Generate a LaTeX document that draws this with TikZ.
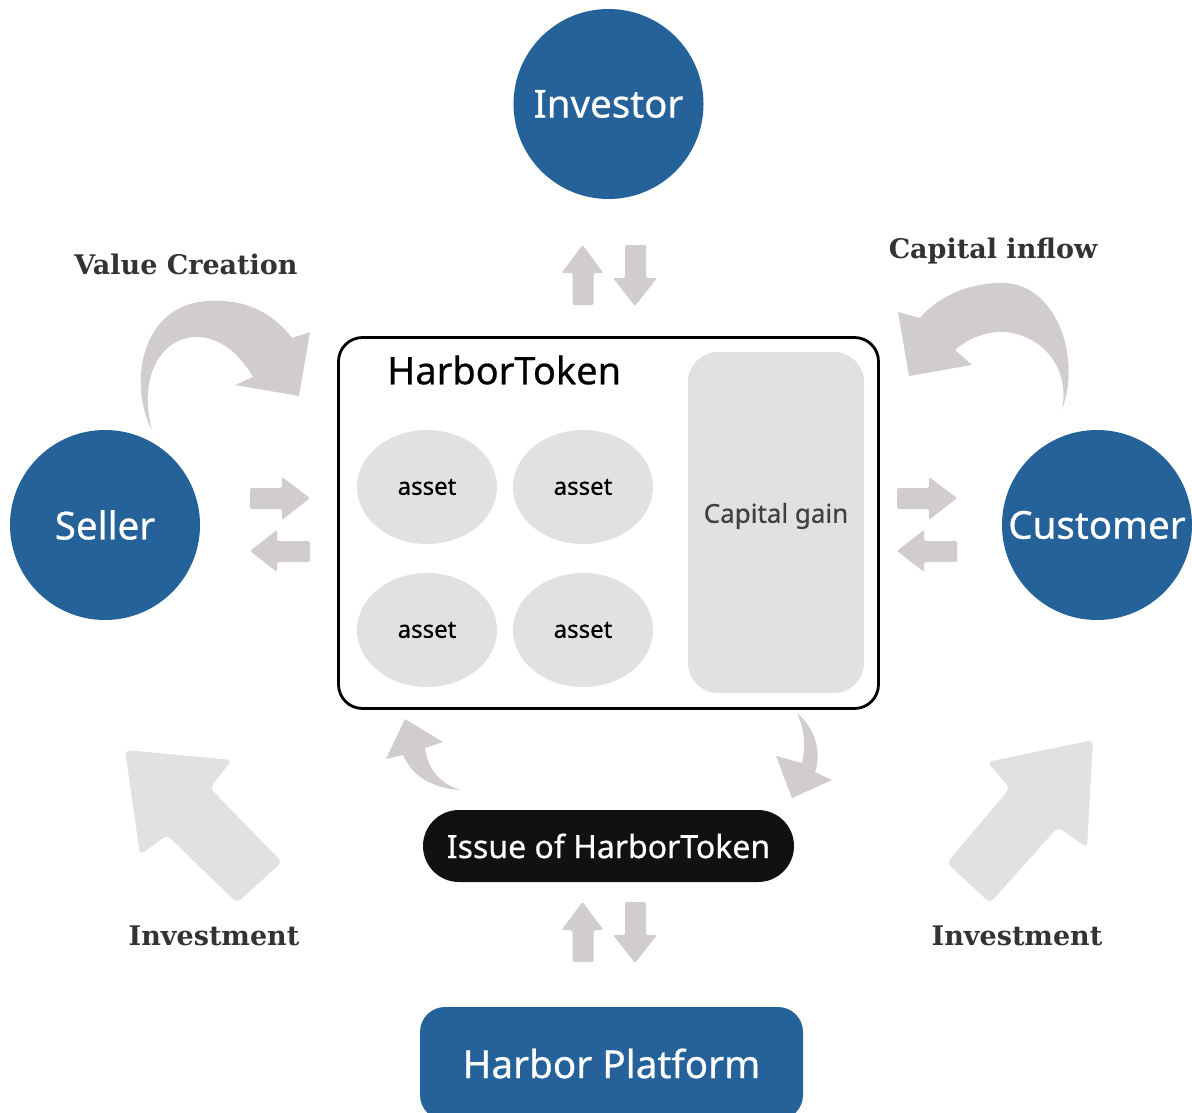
\documentclass[tikz,border=0pt]{standalone}
\usepackage{fontspec}
\setmainfont{Noto Sans}[FakeBold=0.6]
\newfontfamily\labelfont{DejaVu Serif}
\usetikzlibrary{shapes.geometric}
\definecolor{hblue}{RGB}{36,98,153}
\definecolor{arrowgray}{RGB}{209,205,206}
\definecolor{biggray}{RGB}{224,225,225}
\definecolor{softgray}{RGB}{225,225,225}
\definecolor{labelgray}{RGB}{51,51,51}
\definecolor{gaingray}{RGB}{64,64,64}
\begin{document}
\begin{tikzpicture}[x=1pt,y=-1pt,
  txt/.style={font=\bfseries},
  circ/.style={circle, fill=hblue, minimum size=190pt, inner sep=0pt, text=white, font=\bfseries\fontsize{38.5}{40}\selectfont},
  assetnode/.style={ellipse, fill=softgray, minimum width=140pt, minimum height=114pt, inner sep=0pt, font=\bfseries\fontsize{24}{26}\selectfont},
  sidelabel/.style={text=labelgray, font=\labelfont\bfseries\fontsize{27}{29}\selectfont},
  smallarrow/.style={fill=arrowgray, rounded corners=1.5pt},
  curvearrow/.style={fill=arrowgray},
  bigarrow/.style={fill=biggray, rounded corners=5pt}]
\useasboundingbox (0,0) rectangle (1192,1113);
\clip (0,0) rectangle (1192,1113);

% circles
\node[circ] (investor) at (608.5,104) {Investor};
\node[circ] (seller) at (105,525) {Seller};
\node[circ] (customer) at (1097,525) {Customer};

% main box
\node[draw=black, line width=2.8pt, rounded corners=24pt, minimum width=540pt, minimum height=371pt, inner sep=0pt] (token) at (608.5,523) {};
\node[font=\bfseries\fontsize{38}{40}\selectfont, anchor=west, inner sep=0pt] (tokentitle) at (387,370) {HarborToken};
\node[assetnode] (a1) at (427,487) {asset};
\node[assetnode] (a2) at (583,487) {asset};
\node[assetnode] (a3) at (427,630) {asset};
\node[assetnode] (a4) at (583,630) {asset};
\node[fill=softgray, rounded corners=30pt, minimum width=176pt, minimum height=341pt, inner sep=0pt] (gain) at (776,522.5) {};
\node[text=gaingray, font=\bfseries\fontsize{26}{28}\selectfont, inner sep=0pt] (gaintext) at (776,516) {Capital gain};

% issue and platform
\node[fill={rgb,255:red,17;green,17;blue,17}, rounded corners=36pt, minimum width=371pt, minimum height=72pt, inner sep=0pt, text=white, font=\bfseries\fontsize{32}{34}\selectfont] (issue) at (608.5,846) {Issue of HarborToken};
\node[fill=hblue, rounded corners=25pt, minimum width=383pt, minimum height=113pt, inner sep=0pt, text=white, font=\bfseries\fontsize{38.7}{40}\selectfont] (platform) at (611.5,1063.5) {Harbor Platform};

% labels
\node[sidelabel] (lvc) at (186,264) {Value Creation};
\node[sidelabel] (lci) at (993,251) {Capital inflow};
\node[sidelabel] (li1) at (214,936) {Investment};
\node[sidelabel] (li2) at (1017,936) {Investment};

% small vertical arrows (top and bottom)
\foreach \dy in {0,657}{
  \begin{scope}[shift={(0,\dy)}]
    \fill[smallarrow] (582.5,245) -- (603.5,273) -- (593.5,273) -- (593.5,305) -- (572.5,305) -- (572.5,273) -- (561.5,273) -- cycle;
    \fill[smallarrow] (635,306) -- (657,278) -- (646,278) -- (646,245) -- (625,245) -- (625,278) -- (613,278) -- cycle;
  \end{scope}
}
% small horizontal arrows (left and right)
\foreach \dx in {0,647}{
  \begin{scope}[shift={(\dx,0)}]
    \fill[smallarrow] (310,498) -- (282,477) -- (282,488) -- (250,488) -- (250,509) -- (282,509) -- (282,520) -- cycle;
    \fill[smallarrow] (250,551) -- (277,530) -- (277,541) -- (310,541) -- (310,562) -- (277,562) -- (277,572) -- cycle;
  \end{scope}
}

% curved arrow: value creation
\fill[curvearrow] (152,430) .. controls (128,385) and (140,303) .. (210,301)
  .. controls (250,299) and (275,316) .. (292,338) -- (310,332) -- (299,396) -- (235,385) -- (253,377)
  .. controls (236,348) and (215,336) .. (193,337)
  .. controls (160,340) and (138,378) .. (152,430) -- cycle;

% curved arrow: capital inflow
\fill[curvearrow] (1062,410) .. controls (1082,355) and (1055,285) .. (1005,283)
  .. controls (965,282) and (935,300) .. (920,318) -- (898,312) -- (909,376) -- (972,365) -- (955,350)
  .. controls (970,337) and (988,331) .. (1005,332)
  .. controls (1045,336) and (1070,370) .. (1062,410) -- cycle;

% small curved arrows near issue box
\fill[curvearrow] (405,719) -- (443,742) -- (425,748) .. controls (428,770) and (440,783) .. (460,790)
  .. controls (430,788) and (412,775) .. (403,755) -- (386,759) -- cycle;
\fill[curvearrow] (797,713) .. controls (815,728) and (822,752) .. (815,772) -- (832,780) -- (792,798) -- (776,756) -- (802,763)
  .. controls (806,745) and (804,728) .. (797,713) -- cycle;

% big diagonal arrows
\fill[bigarrow] (125,750) -- (232,760) -- (210,788) -- (282,862) -- (237,903) -- (167,835) -- (140,855) -- cycle;
\fill[bigarrow] (1093,740) -- (1087,848) -- (1058,827) -- (990,903) -- (947,863) -- (1010,788) -- (987,762) -- cycle;
\end{tikzpicture}
\end{document}
